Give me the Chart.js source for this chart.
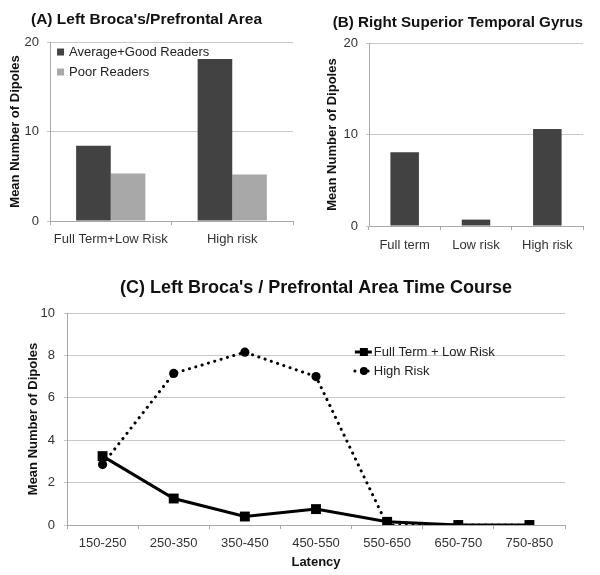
<!DOCTYPE html>
<html>
<head>
<meta charset="utf-8">
<script src="https://cdn.jsdelivr.net/npm/chart.js@4"></script>
<style>
  body { margin:0; background:#fff; width:600px; height:575px; position:relative; overflow:hidden; }
  .panel { position:absolute; }
</style>
</head>
<body>
<div class="panel" style="left:0;top:0;width:300px;height:262px"><canvas id="chartA"></canvas></div>
<div class="panel" style="left:300px;top:0;width:300px;height:262px"><canvas id="chartB"></canvas></div>
<div class="panel" style="left:0;top:265px;width:600px;height:310px"><canvas id="chartC"></canvas></div>
<script>
// panel A - Left Broca's/Prefrontal Area
const groupsA = ['Full Term+Low Risk', 'High risk'];
const goodReaders = [8.4, 18.1];
const poorReaders = [5.3, 5.2];

// panel B - Right Superior Temporal Gyrus
const groupsB = ['Full term', 'Low risk', 'High risk'];
const dipolesB = [8.05, 0.7, 10.6];

// panel C - time course
const latencies = ['150-250','250-350','350-450','450-550','550-650','650-750','750-850'];
const fullTermLowRisk = [3.25, 1.25, 0.4, 0.75, 0.15, 0, 0];
const highRisk = [2.85, 7.15, 8.15, 7.0, 0, 0, 0];

const FONT = '"Liberation Sans", Arial, sans-serif';
Chart.defaults.font.family = FONT;
Chart.defaults.animation = false;

const tickFont = { size: 13 };
const tickColor = '#333';
const gridColor = '#c8c8c8';
const axisColor = '#a8a8a8';
const yTitle = (pad) => ({
  display: true, text: 'Mean Number of Dipoles', color: '#111',
  font: { size: 13, weight: 'bold' }, padding: { top: pad, bottom: 0 }
});

// small legend drawn inside the plot area
const inlineLegend = {
  id: 'inlineLegend',
  afterDraw(chart, args, o) {
    const { ctx, chartArea: a } = chart;
    const x0 = a.left + o.x * (a.right - a.left);
    let y = a.top + o.y * (a.bottom - a.top);
    ctx.save();
    ctx.font = '13px ' + FONT;
    ctx.textBaseline = 'middle';
    chart.data.datasets.forEach(ds => {
      let tx;
      if (o.kind === 'box') {
        ctx.fillStyle = ds.backgroundColor;
        ctx.fillRect(x0, y - 3.5, 7, 7);
        tx = x0 + 12;
      } else {
        ctx.strokeStyle = ds.borderColor;
        ctx.lineWidth = ds.borderWidth;
        ctx.lineCap = ds.borderCapStyle || 'butt';
        ctx.setLineDash(ds.borderDash || []);
        ctx.beginPath(); ctx.moveTo(x0 + 1, y); ctx.lineTo(x0 + 18, y); ctx.stroke();
        ctx.setLineDash([]);
        ctx.fillStyle = ds.pointBackgroundColor;
        if (ds.pointStyle === 'rect') ctx.fillRect(x0 + 6, y - 4, 8, 8);
        else { ctx.beginPath(); ctx.arc(x0 + 10, y, 4, 0, Math.PI * 2); ctx.fill(); }
        tx = x0 + 20;
      }
      ctx.fillStyle = '#222';
      ctx.fillText(ds.label, tx, y);
      y += o.rowGap;
    });
    ctx.restore();
  }
};

const common = {
  responsive: true,
  maintainAspectRatio: false,
  events: [],
};

// ---------- A
new Chart(document.getElementById('chartA'), {
  type: 'bar',
  data: {
    labels: groupsA,
    datasets: [
      { label: 'Average+Good Readers', data: goodReaders, backgroundColor: '#424242' },
      { label: 'Poor Readers', data: poorReaders, backgroundColor: '#a8a8a8' }
    ]
  },
  options: {
    ...common,
    layout: { padding: { left: 0, right: 7, top: 0, bottom: 0 } },
    datasets: { bar: { categoryPercentage: 0.57, barPercentage: 1 } },
    plugins: {
      legend: { display: false }, tooltip: { enabled: false },
      title: { display: true, text: "(A) Left Broca's/Prefrontal Area", color: '#111',
               font: { size: 15.5, weight: 'bold' }, padding: { top: 10, bottom: 13.4 } },
      inlineLegend: { kind: 'box', x: 0.029, y: 0.056, rowGap: 20 }
    },
    scales: {
      x: {
        grid: { drawOnChartArea: false, tickLength: 4, color: axisColor },
        border: { color: axisColor },
        ticks: { font: tickFont, color: tickColor, padding: 7 },
        afterFit: s => { s.height = 41; }
      },
      y: {
        min: 0, max: 20,
        ticks: { stepSize: 10, font: tickFont, color: tickColor, padding: 8 },
        grid: { color: gridColor, tickLength: 3 },
        border: { color: axisColor },
        title: yTitle(8),
        afterFit: s => { s.width = 50; }
      }
    }
  },
  plugins: [inlineLegend]
});

// ---------- B
new Chart(document.getElementById('chartB'), {
  type: 'bar',
  data: {
    labels: groupsB,
    datasets: [{ label: 'Dipoles', data: dipolesB, backgroundColor: '#424242' }]
  },
  options: {
    ...common,
    layout: { padding: { left: 0, right: 17, top: 0, bottom: 0 } },
    datasets: { bar: { categoryPercentage: 0.8, barPercentage: 0.5 } },
    plugins: {
      legend: { display: false }, tooltip: { enabled: false },
      title: { display: true, text: '(B) Right Superior Temporal Gyrus', color: '#111', align: 'end',
               font: { size: 15.2, weight: 'bold' }, padding: { top: 13.5, bottom: 11.3 } }
    },
    scales: {
      x: {
        grid: { drawOnChartArea: false, tickLength: 4, color: axisColor },
        border: { color: axisColor },
        ticks: { font: tickFont, color: tickColor, padding: 8 },
        afterFit: s => { s.height = 36; }
      },
      y: {
        min: 0, max: 20,
        ticks: { stepSize: 10, font: tickFont, color: tickColor, padding: 8 },
        grid: { color: gridColor, tickLength: 3 },
        border: { color: axisColor },
        title: yTitle(25),
        afterFit: s => { s.width = 69; }
      }
    }
  }
});

// ---------- C
new Chart(document.getElementById('chartC'), {
  type: 'line',
  data: {
    labels: latencies,
    datasets: [
      { label: 'Full Term + Low Risk', data: fullTermLowRisk, borderColor: '#000', borderWidth: 3,
        pointStyle: 'rect', pointRadius: 7, pointBackgroundColor: '#000', pointBorderWidth: 0, tension: 0 },
      { label: 'High Risk', data: highRisk, borderColor: '#000', borderWidth: 3,
        borderDash: [0.1, 6.5], borderCapStyle: 'round',
        pointStyle: 'circle', pointRadius: 4.6, pointBackgroundColor: '#000', pointBorderWidth: 0, tension: 0 }
    ]
  },
  options: {
    ...common,
    layout: { padding: { left: 0, right: 35, top: 0, bottom: 0 } },
    plugins: {
      legend: { display: false }, tooltip: { enabled: false },
      title: { display: true, text: "(C) Left Broca's / Prefrontal Area Time Course", color: '#111',
               fullSize: false, font: { size: 18, weight: 'bold' }, padding: { top: 12.2, bottom: 14.2 } },
      inlineLegend: { kind: 'line', x: 0.576, y: 0.184, rowGap: 19 }
    },
    scales: {
      x: {
        offset: true,
        grid: { offset: true, drawOnChartArea: false, tickLength: 4, color: axisColor },
        border: { color: axisColor },
        ticks: { font: tickFont, color: tickColor, padding: 7 },
        title: { display: true, text: 'Latency', color: '#111', font: { size: 13, weight: 'bold' },
                 padding: { top: 0, bottom: 5 } },
        afterFit: s => { s.height = 50; }
      },
      y: {
        min: 0, max: 10,
        ticks: { stepSize: 2, font: tickFont, color: tickColor, padding: 9 },
        grid: { color: gridColor, tickLength: 3 },
        border: { color: axisColor },
        title: yTitle(26),
        afterFit: s => { s.width = 67; }
      }
    }
  },
  plugins: [inlineLegend]
});
</script>
</body>
</html>
